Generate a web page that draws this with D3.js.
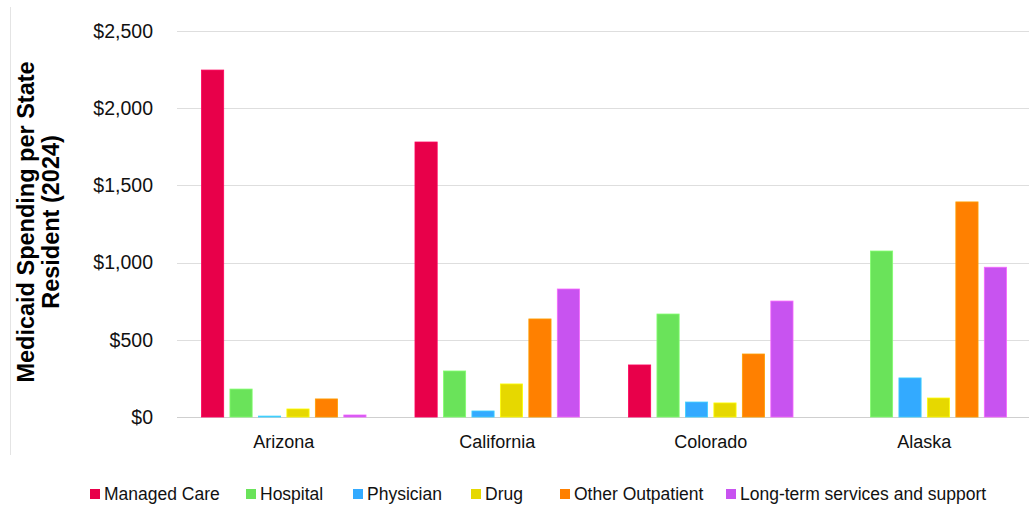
<!DOCTYPE html>
<html>
<head>
<meta charset="utf-8">
<script src="https://cdn.jsdelivr.net/npm/d3@7.9.0/dist/d3.min.js"></script>
<style>
	body { margin: 0; background: #fff; }
	svg { display: block; font-family: 'Liberation Sans', Arial, sans-serif; }
</style>
</head>
<body>
<svg id="chart" width="1029" height="508"></svg>
<script>
const states = ['Arizona', 'California', 'Colorado', 'Alaska'];
const categories = ['Managed Care', 'Hospital', 'Physician', 'Drug', 'Other Outpatient', 'Long-term services and support'];
const colors = ['#e8004a', '#6ae35a', '#33aaff', '#e6d800', '#ff8000', '#c853f0'];

// one array per category, values in state order
const managedCare = [2247, 1781, 337, 0];
const hospital = [181, 298, 667, 1075];
const physician = [6, 39, 97, 253];
const drug = [52, 214, 91, 123];
const otherOutpatient = [117, 635, 408, 1393];
const longTerm = [13, 829, 751, 970];
const series = [managedCare, hospital, physician, drug, otherOutpatient, longTerm];

const yTicks = [0, 500, 1000, 1500, 2000, 2500];

const svg = d3.select('#chart');

const x0 = d3.scaleBand().domain(states).range([177, 1031]);
const x1 = d3.scaleBand().domain(categories).range([0, x0.bandwidth()])
	.paddingInner(0.22).paddingOuter(0.86);
const y = d3.scaleLinear().domain([0, 2500]).range([417, 31]);
const color = d3.scaleOrdinal().domain(categories).range(colors);

// frame line on the left
svg.append('line')
	.attr('x1', 10.5).attr('x2', 10.5).attr('y1', 7).attr('y2', 455)
	.attr('stroke', '#e4e4e4');

// gridlines
svg.append('g')
	.selectAll('line')
	.data(yTicks)
	.join('line')
	.attr('x1', 177).attr('x2', 1029)
	.attr('y1', (d) => Math.round(y(d)) + 0.5)
	.attr('y2', (d) => Math.round(y(d)) + 0.5)
	.attr('stroke', (d) => d === 0 ? '#cfcfcf' : '#dedede')
	.attr('stroke-width', 1.2);

// y tick labels
svg.append('g')
	.selectAll('text')
	.data(yTicks)
	.join('text')
	.attr('x', 153)
	.attr('y', (d) => y(d))
	.attr('dy', '0.35em')
	.attr('text-anchor', 'end')
	.attr('font-size', 19.5)
	.attr('fill', '#111')
	.text((d) => d3.format('$,')(d));

// y title
const title = svg.append('text')
	.attr('transform', 'translate(41,222) rotate(-90)')
	.attr('text-anchor', 'middle')
	.attr('font-size', 23.5)
	.attr('font-weight', 'bold')
	.attr('fill', '#000');
title.append('tspan').attr('x', 0).attr('dy', '-0.3em').text('Medicaid Spending per State');
title.append('tspan').attr('x', 0).attr('dy', '1.05em').text('Resident (2024)');

// bars
const groups = svg.append('g')
	.selectAll('g')
	.data(states)
	.join('g')
	.attr('transform', (d) => `translate(${x0(d)},0)`);

groups.selectAll('rect')
	.data((state, i) => categories.map((c, k) => ({ cat: c, value: series[k][i] })))
	.join('rect')
	.attr('x', (d) => x1(d.cat))
	.attr('width', x1.bandwidth())
	.attr('y', (d) => y(d.value))
	.attr('height', (d) => y(0) - y(d.value))
	.attr('fill', (d) => color(d.cat))
	.attr('stroke', (d) => d3.color(color(d.cat)).brighter(0.6))
	.attr('stroke-width', (d) => d.value > 0 ? 0.8 : 0);

// category labels
svg.append('g')
	.selectAll('text')
	.data(states)
	.join('text')
	.attr('x', (d) => x0(d) + x0.bandwidth() / 2)
	.attr('y', 448)
	.attr('text-anchor', 'middle')
	.attr('font-size', 18)
	.attr('fill', '#111')
	.text((d) => d);

// legend
const legendX = [90, 246, 353, 471, 560, 726];
const legend = svg.append('g')
	.selectAll('g')
	.data(categories)
	.join('g')
	.attr('transform', (d, i) => `translate(${legendX[i]},494)`);
legend.append('rect')
	.attr('x', 0).attr('y', -5).attr('width', 10).attr('height', 10)
	.attr('fill', (d) => color(d));
legend.append('text')
	.attr('x', 14)
	.attr('dy', '0.35em')
	.attr('font-size', 17.5)
	.attr('fill', '#111')
	.text((d) => d);
</script>
</body>
</html>
